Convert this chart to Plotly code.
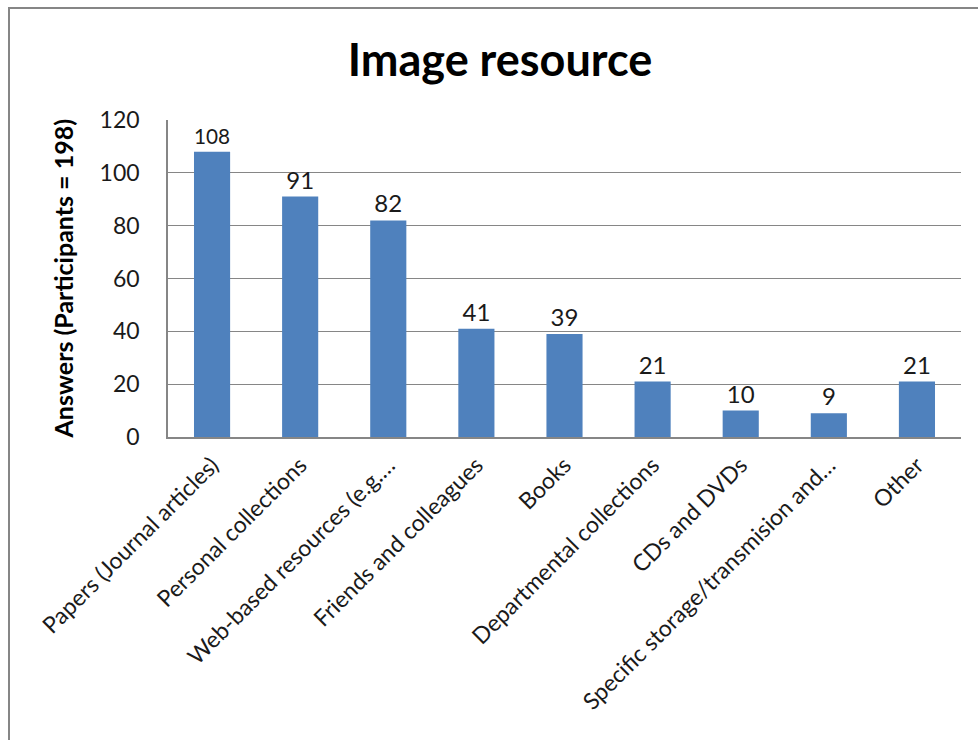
import plotly.graph_objects as go

categories = [
    "Papers (Journal articles)",
    "Personal collections",
    "Web-based resources (e.g.…",
    "Friends and colleagues",
    "Books",
    "Departmental collections",
    "CDs and DVDs",
    "Specific storage/transmision and…",
    "Other",
]
answers = [108, 91, 82, 41, 39, 21, 10, 9, 21]
y_ticks = [0, 20, 40, 60, 80, 100, 120]

FONT = "Lato, 'Open Sans', sans-serif"
W, H = 978, 740
L, R, T, B = 168, 17, 120, 303
pw, ph = W - L - R, H - T - B

fig = go.Figure()
fig.add_trace(go.Bar(
    x=categories,
    y=answers,
    width=0.41,
    marker=dict(color="#4F81BD", line=dict(width=0)),
    text=answers,
    textposition="outside",
    textfont=dict(size=24, color="#1a1a1a", family=FONT),
    cliponaxis=False,
))

fig.update_layout(
    width=W, height=H,
    margin=dict(l=L, r=R, t=T, b=B, autoexpand=False),
    paper_bgcolor="white",
    plot_bgcolor="white",
    showlegend=False,
    font=dict(family=FONT, color="#1a1a1a"),
    title=dict(text="<b>Image resource</b>", x=500 / W, xanchor="center",
               y=1 - 60 / H, yanchor="middle", font=dict(size=45, color="black", family=FONT)),
    xaxis=dict(
        tickangle=-45,
        tickfont=dict(size=23, family=FONT),
        showline=True, linecolor="#868686", linewidth=1.5,
        showgrid=False, ticks="", automargin=False,
        ticklabelstandoff=4,
    ),
    yaxis=dict(
        range=[0, 120],
        tickvals=y_ticks,
        tickfont=dict(size=23, family=FONT),
        showgrid=True, gridcolor="#868686", gridwidth=1,
        showline=True, linecolor="#868686", linewidth=1.5,
        ticks="", ticklabelstandoff=22, automargin=False,
        zeroline=False,
    ),
    bargap=0.59,
)

fig.add_annotation(
    text="<b>Answers (Participants = 198)</b>",
    xref="paper", yref="paper",
    x=(62 - L) / pw, y=0.5,
    xanchor="center", yanchor="middle",
    textangle=-90, showarrow=False,
    font=dict(size=25, color="black", family=FONT),
)

# outer chart border
fig.add_shape(
    type="rect", xref="paper", yref="paper",
    x0=(9 - L) / pw, x1=(990 - L) / pw,
    y0=-(760 - (H - B)) / ph, y1=((H - B) - 8) / ph,
    line=dict(color="#868686", width=2), fillcolor="rgba(0,0,0,0)",
    layer="below",
)

fig.write_html("out.html", config={"displayModeBar": False},
               post_script="document.body.style.margin='0';")
